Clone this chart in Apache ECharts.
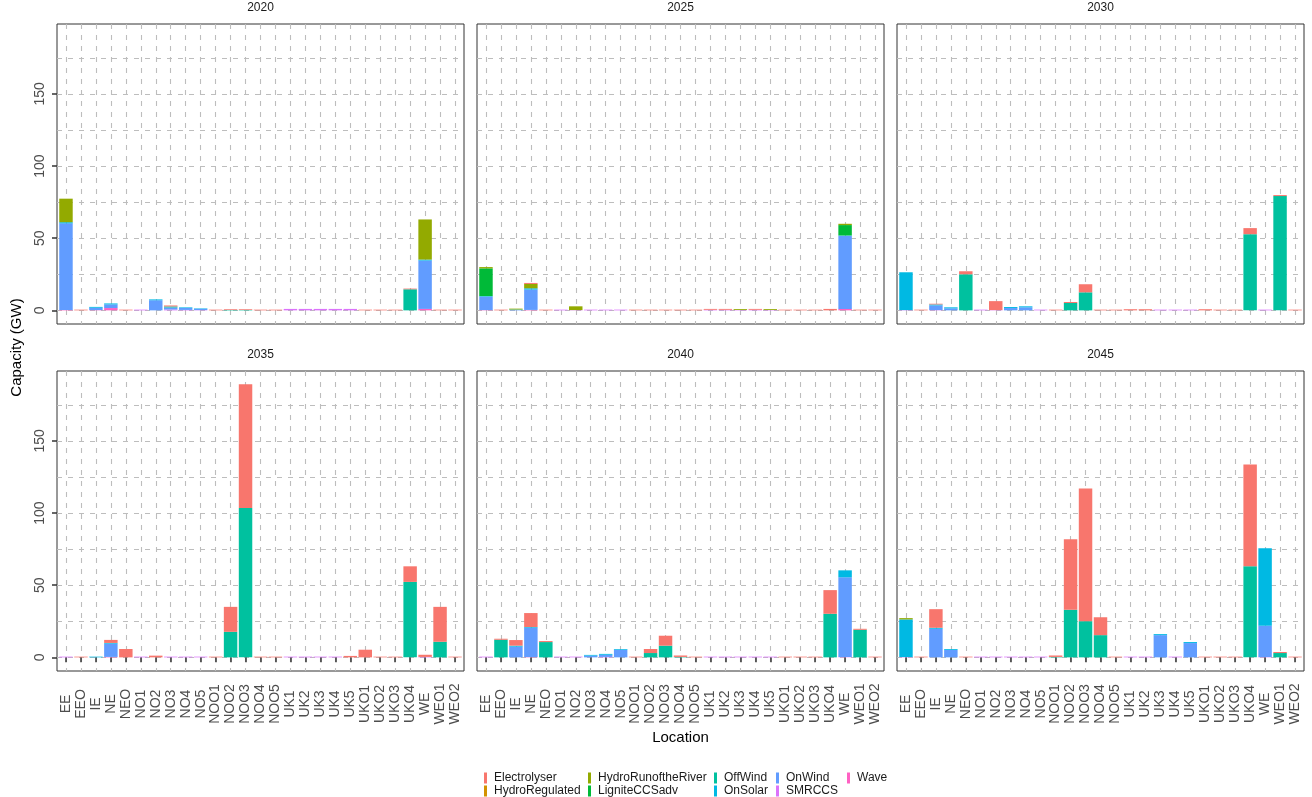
<!DOCTYPE html>
<html>
<head>
<meta charset="utf-8">
<script src="https://cdn.jsdelivr.net/npm/echarts@6/dist/echarts.min.js"></script>
<style>
html,body{margin:0;padding:0;background:#fff;}
#chart{width:1312px;height:797px;}
</style>
</head>
<body>
<div id="chart"></div>
<script>
// ---------------- DATA ----------------
const locations = ['EE','EEO','IE','NE','NEO','NO1','NO2','NO3','NO4','NO5','NOO1','NOO2','NOO3','NOO4','NOO5','UK1','UK2','UK3','UK4','UK5','UKO1','UKO2','UKO3','UKO4','WE','WEO1','WEO2'];
const years = ['2020','2025','2030','2035','2040','2045'];
const techs = ['Electrolyser','HydroRegulated','HydroRunoftheRiver','LigniteCCSadv','OffWind','OnSolar','OnWind','SMRCCS','Wave'];
const techColors = ['#F8766D','#D39200','#93AA00','#00BA38','#00C19F','#00B9E3','#619CFF','#DB72FB','#FF61C3'];
const yTickValues = [0, 50, 100, 150];
const yMinorValues = [25, 75, 125, 175];

// 2020
const elec2020  = [0,0.5,0,0,0.5, 0,0,0.7,0,0, 0.5,0.5,0.5,0.5,0.5, 0,0,0,0,0, 0.5,0.5,0.5,0.5,0, 0.5,0.5];
const ror2020   = [16.3,0,0,0,0, 0,0,0,0,0, 0,0,0,0,0, 0,0,0,0,0, 0,0,0,0,27.8, 0,0];
const offw2020  = [0,0,0,0,0, 0,0,0.7,0,0, 0,0.3,0.3,0,0, 0,0,0,0,0, 0,0,0,14.6,0, 0,0];
const onsol2020 = [0.8,0,0.6,0.7,0, 0,0.6,0,0.4,0.3, 0,0,0,0,0, 0,0,0,0,0, 0,0,0,0,0.7, 0,0];
const onw2020   = [60.0,0,1.6,2.5,0, 0,7.0,1.4,1.4,0.9, 0,0,0,0,0, 0,0,0,0,0, 0,0,0,0,33.5, 0,0];
const smr2020   = [0,0,0,0,0, 0.5,0,0.6,0.3,0.2, 0,0,0,0,0, 1.0,1.0,1.0,1.0,1.0, 0,0,0,0,0, 0,0];
const wave2020  = [0.3,0,0.2,1.6,0, 0,0,0,0,0, 0,0,0,0,0, 0,0,0,0,0, 0,0,0,0,1.0, 0,0];
// 2025
const elec2025  = [0,0.5,0,0.7,0.5, 0,0,0,0,0, 0.5,0.5,0.5,0.5,0.5, 0.6,0.6,0,0.6,0, 0.5,0.5,0.5,1.0,0, 0.5,0.5];
const ror2025   = [0.9,0,0.6,3.0,0, 0,2.6,0,0,0, 0,0,0,0,0, 0,0,0.6,0,0.6, 0,0,0,0,0.9, 0,0];
const lig2025   = [19.2,0,0,0,0, 0,0,0,0,0, 0,0,0,0,0, 0,0,0,0,0, 0,0,0,0,7.2, 0,0];
const onsol2025 = [0.4,0,0.3,0.9,0, 0,0,0,0,0, 0,0,0,0,0, 0,0,0,0,0, 0,0,0,0,0.3, 0,0];
const onw2025   = [9.3,0,0.3,14.1,0, 0,0,0,0,0, 0,0,0,0,0, 0,0,0,0,0, 0,0,0,0,50.6, 0,0];
const smr2025   = [0,0,0,0,0, 0.5,0.2,0.5,0.5,0.5, 0,0,0,0,0, 0.4,0.4,0.3,0.4,0.3, 0,0,0,0,0, 0,0];
const wave2025  = [0.2,0,0,0.3,0, 0,0,0,0,0, 0,0,0,0,0, 0,0,0,0,0, 0,0,0,0,1.0, 0,0];
// 2030
const elec2030  = [0,0.5,0.5,0,2.1, 0,6.2,0,0,0, 0.5,0.7,5.6,0.5,0.5, 0.8,0.8,0,0,0, 0.8,0.5,0.5,4.2,0, 0.7,0.5];
const offw2030  = [0,0,0,0,25.0, 0,0,0,0,0, 0,5.1,12.5,0,0, 0,0,0,0,0, 0,0,0,52.8,0, 79.2,0];
const onsol2030 = [26.2,0,0.7,0.7,0, 0,0,0.7,0.7,0, 0,0,0,0,0, 0,0,0,0,0, 0,0,0,0,0, 0,0];
const onw2030   = [0,0,3.2,1.4,0, 0,0,1.6,2.1,0, 0,0,0,0,0, 0,0,0,0,0, 0,0,0,0,0, 0,0];
const smr2030   = [0.2,0,0.2,0,0, 0.5,0.2,0,0,0.5, 0,0,0,0,0, 0,0,0.5,0.5,0.5, 0,0,0,0,0.5, 0,0];
// 2035
const elec2035  = [0,0.5,0,2.1,5.8, 0,1.2,0,0,0, 0.5,17.3,85.7,0.5,0.5, 0,0,0,0,1.0, 5.3,0.5,0.5,10.8,1.5, 24.2,0.5];
const offw2035  = [0,0,0,0,0, 0,0,0,0,0, 0,17.7,103.5,0,0, 0,0,0,0,0, 0,0,0,52.3,0, 10.8,0];
const onsol2035 = [0,0,0.5,0.5,0, 0,0,0,0,0, 0,0,0,0,0, 0,0,0,0,0, 0,0,0,0,0, 0,0];
const onw2035   = [0,0,0,9.2,0, 0,0,0,0,0, 0,0,0,0,0, 0,0,0,0,0, 0,0,0,0,0, 0,0];
const smr2035   = [0.5,0,0,0,0, 0.5,0,0.5,0.5,0.5, 0,0,0,0,0, 0.5,0.5,0.5,0.5,0, 0,0,0,0,0.3, 0,0];
const wave2035  = [0,0,0,0.3,0, 0,0,0,0,0, 0,0,0,0,0, 0,0,0,0,0, 0,0,0,0,0, 0,0];
// 2040
const elec2040  = [0,0.7,3.9,9.7,0.7, 0,0,0,0,0, 0.5,2.8,6.9,1.0,0.5, 0,0,0,0,0, 0.5,0.5,0.5,16.4,0, 0.7,0.5];
const offw2040  = [0,12.2,0,0,10.6, 0,0,0,0,0, 0,3.0,8.1,0.3,0, 0,0,0,0,0, 0,0,0,30.2,0, 19.1,0];
const onsol2040 = [0,0,0.7,0.5,0, 0,0,0.5,0.6,0.5, 0,0,0,0,0, 0,0,0,0,0, 0,0,0,0,4.8, 0,0];
const onw2040   = [0,0,7.4,20.3,0, 0,0,1.2,1.5,5.3, 0,0,0,0,0, 0,0,0,0,0, 0,0,0,0,55.3, 0,0];
const smr2040   = [0.5,0,0,0,0, 0.5,0.5,0,0.3,0, 0,0,0,0,0, 0.5,0.5,0.5,0.5,0.5, 0,0,0,0,0.2, 0,0];
const wave2040  = [0,0,0,0.2,0, 0,0,0,0,0, 0,0,0,0,0, 0,0,0,0,0, 0,0,0,0,0, 0,0];
// 2045
const elec2045  = [0,0.5,12.9,0,0.5, 0,0,0,0,0, 1.0,48.8,91.9,12.4,0.5, 0,0,0,0,0, 0.5,0.5,0.5,70.5,0, 0.7,0.5];
const ror2045   = [0.9,0,0,0,0, 0,0,0,0,0, 0,0,0,0,0, 0,0,0,0,0, 0,0,0,0,0, 0,0];
const offw2045  = [0,0,0,0,0, 0,0,0,0,0, 0.3,33.0,25.1,15.4,0, 0,0,0,0,0, 0,0,0,63.1,0, 3.0,0];
const onsol2045 = [26.1,0,0.7,0.6,0, 0,0,0,0,0, 0,0,0,0,0, 0,0,0.7,0,0.7, 0,0,0,0,53.7, 0,0];
const onw2045   = [0,0,19.8,5.1,0, 0,0,0,0,0, 0,0,0,0,0, 0,0,15.4,0,9.9, 0,0,0,0,21.7, 0,0];
const smr2045   = [0.2,0,0,0,0, 0.5,0.5,0.5,0.5,0.5, 0,0,0,0,0, 0.5,0.5,0,0.5,0, 0,0,0,0,0.2, 0,0];

const zeros = locations.map(() => 0);
const table = {
  '2020': {Electrolyser: elec2020, HydroRunoftheRiver: ror2020, OffWind: offw2020, OnSolar: onsol2020, OnWind: onw2020, SMRCCS: smr2020, Wave: wave2020},
  '2025': {Electrolyser: elec2025, HydroRunoftheRiver: ror2025, LigniteCCSadv: lig2025, OnSolar: onsol2025, OnWind: onw2025, SMRCCS: smr2025, Wave: wave2025},
  '2030': {Electrolyser: elec2030, OffWind: offw2030, OnSolar: onsol2030, OnWind: onw2030, SMRCCS: smr2030},
  '2035': {Electrolyser: elec2035, OffWind: offw2035, OnSolar: onsol2035, OnWind: onw2035, SMRCCS: smr2035, Wave: wave2035},
  '2040': {Electrolyser: elec2040, OffWind: offw2040, OnSolar: onsol2040, OnWind: onw2040, SMRCCS: smr2040, Wave: wave2040},
  '2045': {Electrolyser: elec2045, HydroRunoftheRiver: ror2045, OffWind: offw2045, OnSolar: onsol2045, OnWind: onw2045, SMRCCS: smr2045}
};

// ---------------- LAYOUT ----------------
const FONT = "'Liberation Sans', Arial, Helvetica, sans-serif";
const colLeft = [57, 477, 897];
const rowTop = [24, 371];
const panelW = 407, panelH = 300;
const yMin = -9.45, yMax = 198.45;     // ggplot 5% expansion of 0..189
const xMin = 0.4, xMax = 27.6;         // ggplot discrete expansion (0.6 units)
const unit = panelW / (xMax - xMin);
const gridColor = '#BDBDBD';
const gridDash = [5, 6];
const gridWidth = 1.1;
const xTickValues = locations.map((_, i) => i + 1);
const N = years.length;

const grids = [], xAxes = [], yAxes = [], series = [], graphics = [];
// outer grids (frame, ticks, labels, grid lines)
years.forEach((yr, p) => {
  const row = Math.floor(p / 3), col = p % 3;
  grids.push({
    left: colLeft[col], top: rowTop[row], width: panelW, height: panelH,
    show: true, borderColor: '#333333', borderWidth: 1, backgroundColor: 'transparent',
    containLabel: false, outerBoundsMode: 'none'
  });
  xAxes.push({
    type: 'value', gridIndex: p, min: xMin, max: xMax,
    axisLine: {show: false},
    axisTick: {show: row === 1, customValues: xTickValues, length: 5, lineStyle: {color: '#333333', width: 1.5}},
    axisLabel: {show: row === 1, customValues: xTickValues, rotate: 90, align: 'center', verticalAlign: 'middle',
      margin: 33, fontSize: 14, color: '#4D4D4D', fontFamily: FONT,
      formatter: v => locations[Math.round(v) - 1]},
    splitLine: {show: true, lineStyle: {color: gridColor, type: gridDash, width: gridWidth}}
  });
  yAxes.push({
    type: 'value', gridIndex: p, min: yMin, max: yMax, position: 'left',
    axisLine: {show: false},
    axisTick: {show: col === 0, customValues: yTickValues, length: 5, lineStyle: {color: '#333333', width: 1.5}},
    axisLabel: {show: col === 0, customValues: yTickValues, rotate: 90, margin: 10, fontSize: 14, color: '#4D4D4D', fontFamily: FONT},
    splitLine: {show: true, lineStyle: {color: gridColor, type: gridDash, width: gridWidth}}
  });
  graphics.push({
    type: 'text', x: colLeft[col] + panelW / 2, y: rowTop[row] - 16,
    style: {text: yr, align: 'center', verticalAlign: 'middle', fontSize: 12, fill: '#1A1A1A', fontFamily: FONT}
  });
});
// minor horizontal grid lines
years.forEach((yr, p) => {
  yAxes.push({
    type: 'value', gridIndex: p, min: yMin, max: yMax, position: 'left',
    axisLine: {show: false},
    axisTick: {show: false, customValues: yMinorValues},
    axisLabel: {show: false, customValues: yMinorValues},
    splitLine: {show: true, lineStyle: {color: gridColor, type: gridDash, width: gridWidth}}
  });
});
// inner grids holding the bars (category bands cover 0.5..27.5)
years.forEach((yr, p) => {
  const row = Math.floor(p / 3), col = p % 3;
  const g = N + p;
  grids.push({
    left: colLeft[col] + (0.5 - xMin) * unit, top: rowTop[row],
    width: locations.length * unit, height: panelH,
    show: false, containLabel: false, outerBoundsMode: 'none'
  });
  xAxes.push({type: 'category', gridIndex: g, data: locations, boundaryGap: true, show: false,
    axisLine: {show: false}, axisTick: {show: false}, axisLabel: {show: false}, splitLine: {show: false}});
  yAxes.push({type: 'value', gridIndex: g, min: yMin, max: yMax, show: false,
    axisLine: {show: false}, axisTick: {show: false}, axisLabel: {show: false}, splitLine: {show: false}});
  // ggplot stacks the first level on top: draw bottom-up in reverse order
  for (let k = techs.length - 1; k >= 0; k--) {
    const name = techs[k];
    const vals = table[yr][name] || zeros;
    series.push({
      type: 'bar', name: name, xAxisIndex: g, yAxisIndex: 2 * N + p, stack: 'panel' + p,
      barWidth: '90%',
      itemStyle: {color: techColors[k]},
      emphasis: {disabled: true},
      data: vals.slice()
    });
  }
});

graphics.push({
  type: 'text', x: (colLeft[0] + colLeft[2] + panelW) / 2, y: 738,
  style: {text: 'Location', align: 'center', verticalAlign: 'middle', fontSize: 15, fill: '#000000', fontFamily: FONT}
});
graphics.push({
  type: 'text', x: 17, y: (rowTop[0] + rowTop[1] + panelH) / 2, rotation: Math.PI / 2,
  style: {text: 'Capacity (GW)', align: 'center', verticalAlign: 'middle', fontSize: 15, fill: '#000000', fontFamily: FONT}
});

const legendCols = [['Electrolyser','HydroRegulated'], ['HydroRunoftheRiver','LigniteCCSadv'], ['OffWind','OnSolar'], ['OnWind','SMRCCS'], ['Wave']];
const legendLeft = [484, 588, 714, 776, 847];
const legends = legendCols.map((items, j) => ({
  data: items, orient: 'vertical', left: legendLeft[j], top: 772, padding: 0,
  itemGap: 1, itemWidth: 3, itemHeight: 11, icon: 'rect', selectedMode: false,
  textStyle: {fontSize: 12, color: '#1A1A1A', fontFamily: FONT, lineHeight: 11, padding: [0, 0, 0, 2]}
}));

const chart = echarts.init(document.getElementById('chart'), null, {renderer: 'canvas'});
chart.setOption({
  animation: false,
  backgroundColor: '#ffffff',
  textStyle: {fontFamily: FONT},
  grid: grids, xAxis: xAxes, yAxis: yAxes, series: series,
  legend: legends, graphic: graphics
});
</script>
</body>
</html>
